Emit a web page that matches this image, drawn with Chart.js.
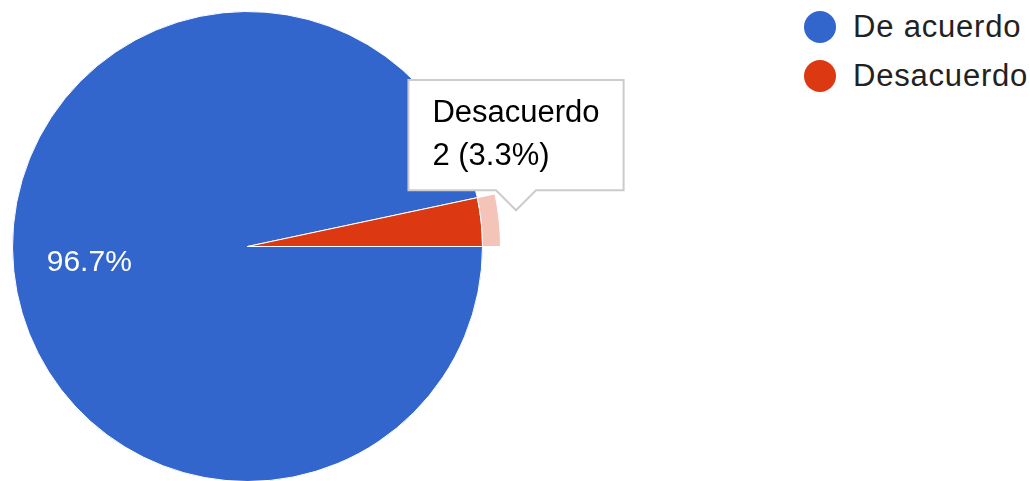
<html>
<head>
<meta charset="utf-8">
<title>De acuerdo / Desacuerdo</title>
<script src="https://cdn.jsdelivr.net/npm/chart.js@4.4.1/dist/chart.umd.min.js"></script>
<style>
body { margin: 0; background: #fff; overflow: hidden; width: 1030px; height: 481px; position: relative; font-family: "Liberation Sans", Arial, sans-serif; }
#pieChart { position: absolute; left: -10px; top: -10px; }
#legend { position: absolute; left: 804px; top: 0; }
.item { position: absolute; left: 0; white-space: nowrap; font-size: 31px; letter-spacing: 0.8px; color: #222; }
.dot { display: inline-block; width: 32px; height: 32px; border-radius: 50%; vertical-align: middle; margin-right: 17px; position: relative; top: -2px; }
</style>
</head>
<body>
<canvas id="pieChart" width="800" height="540"></canvas>
<div id="legend"></div>

<script>
// data
var labels = ['De acuerdo', 'Desacuerdo'];
var counts = [58, 2];
var colors = ['#3366cc', '#dc3912'];
var haloColors = ['rgba(0,0,0,0)', '#f4c4b9'];

var total = counts.reduce(function(a, b) { return a + b; }, 0);

// html legend, built from the same arrays
var legendRows = [9, 58];
for (let i = 0; i < labels.length; i++) {
    let d = document.createElement('div');
    d.className = 'item';
    d.style.top = legendRows[i] + 'px';
    d.innerHTML = '<span class="dot" style="background:' + colors[i] + '"></span>' + labels[i];
    document.getElementById('legend').appendChild(d);
}

// tooltip sits just outside the highlighted slice
Chart.Tooltip.positioners.outside = function(items) {
    if (!items.length) return false;
    let el = items[0].element;
    let mid = (el.startAngle + el.endAngle) / 2;
    let r = el.outerRadius + 35;
    return { x: el.x + r * Math.cos(mid), y: el.y + r * Math.sin(mid) - 6, xAlign: 'center', yAlign: 'bottom' };
};

// percent text inside the big slices
const sliceText = {
    id: 'sliceText',
    afterDatasetsDraw(chart) {
        const ctx = chart.ctx;
        const meta = chart.getDatasetMeta(1);
        ctx.save();
        ctx.fillStyle = '#ffffff';
        ctx.font = '30px "Liberation Sans", Arial, sans-serif';
        ctx.textAlign = 'center';
        ctx.textBaseline = 'middle';
        meta.data.forEach(function(arc, i) {
            let pct = counts[i] / total * 100;
            if (pct < 5) return;
            let mid = (arc.startAngle + arc.endAngle) / 2;
            let r = arc.outerRadius * 0.677;
            ctx.fillText(pct.toFixed(1) + '%', arc.x + r * Math.cos(mid), arc.y + r * Math.sin(mid));
        });
        ctx.restore();
    }
};

const ctx = document.getElementById('pieChart').getContext('2d');
const pieChart = new Chart(ctx, {
    type: 'pie',
    data: {
        labels: labels,
        datasets: [
            {
                // light ring round the hovered slice
                data: counts,
                backgroundColor: haloColors,
                hoverBackgroundColor: haloColors,
                borderColor: '#ffffff',
                borderWidth: [0, 1],
                hoverBorderWidth: [0, 1],
                weight: 18
            },
            {
                data: counts,
                backgroundColor: colors,
                hoverBackgroundColor: colors,
                borderColor: '#ffffff',
                borderWidth: 1,
                hoverBorderWidth: 1,
                weight: 235
            }
        ]
    },
    options: {
        responsive: false,
        animation: false,
        events: [],
        rotation: 90,
        layout: { padding: { left: 4, top: 3, right: 289, bottom: 30 } },
        plugins: {
            legend: { display: false },
            tooltip: {
                position: 'outside',
                backgroundColor: '#ffffff',
                borderColor: '#cccccc',
                borderWidth: 2,
                cornerRadius: 0,
                caretSize: 20,
                caretPadding: 2,
                displayColors: false,
                padding: { x: 24, y: 15 },
                titleColor: '#000000',
                bodyColor: '#000000',
                titleFont: { family: '"Liberation Sans", Arial, sans-serif', size: 31, weight: 'normal' },
                bodyFont: { family: '"Liberation Sans", Arial, sans-serif', size: 31 },
                titleMarginBottom: 6,
                callbacks: {
                    title: function(items) { return labels[items[0].dataIndex]; },
                    label: function(item) {
                        return item.parsed + ' (' + (item.parsed / total * 100).toFixed(1) + '%)';
                    }
                }
            }
        }
    },
    plugins: [sliceText]
});

pieChart.tooltip.setActiveElements([{ datasetIndex: 1, index: 1 }], { x: 0, y: 0 });
pieChart.update();
</script>
</body>
</html>
